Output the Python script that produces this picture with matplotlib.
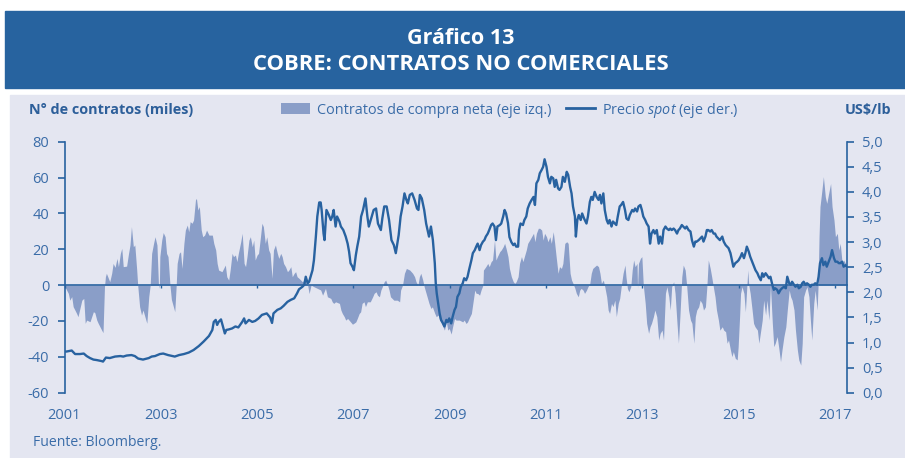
import matplotlib
matplotlib.use("Agg")
import matplotlib.pyplot as plt
from matplotlib.patches import Patch, Rectangle
from matplotlib.lines import Line2D

plt.rcParams["font.family"] = ["Open Sans", "DejaVu Sans"]
plt.rcParams["mathtext.fontset"] = "custom"
plt.rcParams["mathtext.rm"] = "Open Sans"
plt.rcParams["mathtext.it"] = "Open Sans:italic"

# --- datos (año decimal) ---
# contratos de compra neta, miles (eje izq.)
contratos_t = [
    2001.01, 2001.08, 2001.11, 2001.15, 2001.18, 2001.25, 2001.28, 2001.36, 2001.40, 2001.43,
    2001.46, 2001.53, 2001.60, 2001.63, 2001.67, 2001.70, 2001.77, 2001.80, 2001.83, 2001.85,
    2001.87, 2001.94, 2001.98, 2002.01, 2002.05, 2002.09, 2002.12, 2002.16, 2002.19, 2002.22,
    2002.29, 2002.33, 2002.36, 2002.39, 2002.43, 2002.46, 2002.50, 2002.52, 2002.56, 2002.60,
    2002.63, 2002.67, 2002.71, 2002.75, 2002.78, 2002.81, 2002.85, 2002.88, 2002.92, 2002.95,
    2002.97, 2002.98, 2003.02, 2003.05, 2003.09, 2003.12, 2003.15, 2003.19, 2003.22, 2003.29,
    2003.32, 2003.34, 2003.38, 2003.41, 2003.44, 2003.48, 2003.51, 2003.55, 2003.58, 2003.61,
    2003.65, 2003.68, 2003.72, 2003.74, 2003.77, 2003.80, 2003.84, 2003.87, 2003.91, 2003.95,
    2004.00, 2004.07, 2004.10, 2004.14, 2004.17, 2004.20, 2004.27, 2004.34, 2004.37, 2004.41,
    2004.44, 2004.48, 2004.51, 2004.55, 2004.58, 2004.61, 2004.66, 2004.69, 2004.73, 2004.76,
    2004.79, 2004.83, 2004.86, 2004.90, 2004.93, 2004.96, 2005.00, 2005.03, 2005.07, 2005.10,
    2005.13, 2005.17, 2005.20, 2005.24, 2005.27, 2005.31, 2005.34, 2005.38, 2005.42, 2005.45,
    2005.49, 2005.52, 2005.55, 2005.59, 2005.63, 2005.66, 2005.70, 2005.73, 2005.77, 2005.80,
    2005.83, 2005.87, 2005.94, 2005.98, 2006.05, 2006.08, 2006.12, 2006.18, 2006.25, 2006.32,
    2006.36, 2006.42, 2006.46, 2006.53, 2006.56, 2006.59, 2006.63, 2006.71, 2006.74, 2006.77,
    2006.81, 2006.84, 2006.88, 2006.94, 2006.98, 2007.01, 2007.05, 2007.08, 2007.12, 2007.15,
    2007.18, 2007.22, 2007.25, 2007.29, 2007.35, 2007.40, 2007.43, 2007.47, 2007.50, 2007.54,
    2007.57, 2007.60, 2007.64, 2007.67, 2007.71, 2007.74, 2007.77, 2007.84, 2007.91, 2007.96,
    2007.98, 2008.02, 2008.06, 2008.10, 2008.17, 2008.20, 2008.23, 2008.27, 2008.30, 2008.34,
    2008.37, 2008.40, 2008.44, 2008.47, 2008.51, 2008.54, 2008.57, 2008.61, 2008.64, 2008.69,
    2008.72, 2008.76, 2008.79, 2008.82, 2008.86, 2008.89, 2008.93, 2008.96, 2008.99, 2009.03,
    2009.06, 2009.10, 2009.13, 2009.20, 2009.27, 2009.30, 2009.34, 2009.37, 2009.40, 2009.45,
    2009.48, 2009.52, 2009.55, 2009.58, 2009.62, 2009.65, 2009.69, 2009.70, 2009.75, 2009.79,
    2009.82, 2009.86, 2009.89, 2009.93, 2009.96, 2009.99, 2010.04, 2010.07, 2010.11, 2010.14,
    2010.17, 2010.21, 2010.24, 2010.28, 2010.32, 2010.35, 2010.38, 2010.42, 2010.45, 2010.49,
    2010.52, 2010.55, 2010.59, 2010.62, 2010.66, 2010.70, 2010.74, 2010.77, 2010.80, 2010.84,
    2010.87, 2010.91, 2010.94, 2010.97, 2011.01, 2011.04, 2011.08, 2011.11, 2011.15, 2011.18,
    2011.21, 2011.25, 2011.28, 2011.32, 2011.35, 2011.39, 2011.43, 2011.46, 2011.50, 2011.53,
    2011.56, 2011.60, 2011.63, 2011.67, 2011.70, 2011.73, 2011.77, 2011.80, 2011.84, 2011.87,
    2011.91, 2011.94, 2011.97, 2012.01, 2012.05, 2012.09, 2012.12, 2012.15, 2012.19, 2012.22,
    2012.26, 2012.29, 2012.32, 2012.36, 2012.39, 2012.43, 2012.46, 2012.50, 2012.53, 2012.57,
    2012.60, 2012.64, 2012.66, 2012.69, 2012.72, 2012.76, 2012.79, 2012.82, 2012.85, 2012.89,
    2012.90, 2012.92, 2012.96, 2012.99, 2013.02, 2013.06, 2013.09, 2013.13, 2013.16, 2013.19,
    2013.23, 2013.26, 2013.30, 2013.34, 2013.37, 2013.41, 2013.44, 2013.48, 2013.51, 2013.55,
    2013.58, 2013.61, 2013.65, 2013.68, 2013.72, 2013.75, 2013.78, 2013.82, 2013.85, 2013.89,
    2013.92, 2013.96, 2014.00, 2014.03, 2014.07, 2014.10, 2014.13, 2014.17, 2014.20, 2014.24,
    2014.27, 2014.31, 2014.34, 2014.37, 2014.41, 2014.44, 2014.48, 2014.51, 2014.54, 2014.58,
    2014.61, 2014.66, 2014.69, 2014.73, 2014.76, 2014.79, 2014.83, 2014.86, 2014.89, 2014.93,
    2014.97, 2014.99, 2015.02, 2015.04, 2015.07, 2015.11, 2015.14, 2015.17, 2015.19, 2015.21,
    2015.24, 2015.28, 2015.31, 2015.34, 2015.39, 2015.42, 2015.46, 2015.49, 2015.52, 2015.56,
    2015.59, 2015.63, 2015.66, 2015.70, 2015.73, 2015.76, 2015.80, 2015.83, 2015.87, 2015.90,
    2015.94, 2015.98, 2016.01, 2016.05, 2016.08, 2016.11, 2016.15, 2016.18, 2016.22, 2016.25,
    2016.29, 2016.32, 2016.35, 2016.39, 2016.42, 2016.46, 2016.49, 2016.52, 2016.56, 2016.59,
    2016.63, 2016.65, 2016.67, 2016.69, 2016.73, 2016.76, 2016.80, 2016.83, 2016.87, 2016.91,
    2016.94, 2016.98, 2017.01, 2017.05, 2017.08, 2017.11, 2017.15, 2017.18, 2017.22, 2017.24,
]
contratos = [
    -1, -4.6, -8.4, -6.4, -12.0, -15.7, -17.6, -8.4, -7.4, -21.3,
    -19.5, -20.4, -14.8, -15.4, -19.5, -21.3, -25.0, -26.5, -1, 4.7,
    6.6, 1.9, 6.6, 12.1, 9.9, 14.9, 10.3, 17.7, 20.5, 10.3,
    10.6, 17.7, 22.4, 32.6, 21.4, 22.4, 8.4, 0, -12.0, -16.7,
    -13.9, -17.6, -21.3, -6.4, 0, 17.7, 23.3, 27.0, 22.4, 1,
    -1.8, 15.9, 25.2, 29.3, 27.0, 17.7, 15.9, 0, -8, -14.8,
    0, 12.1, 17.7, 18.6, 9.3, 23.3, 30.7, 33.5, 29.8, 35.4,
    34.5, 36.3, 47.5, 48.4, 41.9, 43.8, 30.7, 27.0, 27.9, 30.7,
    27.9, 27.9, 23.3, 19.6, 12.1, 8.4, 7.5, 11.2, 4.7, 2.8,
    8.4, 17.7, 15.9, 16.8, 13.1, 17.7, 24.2, 28.9, 12.1, 10.3,
    15.9, 25.1, 27.0, 21.4, 25.1, 14.0, 16.8, 17.7, 27.0, 34.5,
    32.6, 23.3, 27.0, 19.6, 17.7, 3.8, 19.6, 22.4, 17.7, 14.9,
    17.7, 15.9, 12.1, 10.3, 7.5, 8.4, 10.3, 4.7, 6.6, 7.5,
    4.7, 3.8, 1.9, 2.8, 0, -4.7, 0, -0.9, -1.8, -2.7,
    -5.6, -1.8, -6.5, -7.4, -9.3, -10.2, -9.3, -10.2, -13.9, -15.8,
    -17.6, -19.5, -18.6, -20.5, -21.8, -21.3, -20.5, -18.6, -15.8, -14.9,
    -10.2, -9.3, -12.0, -9.3, -9.3, -6.5, -4.6, -3.7, -5.6, -6.5,
    -2.8, -0.9, 1.9, 2.8, 0, -2.7, -6.5, -8.4, -8.4, -9.3,
    -2.8, 0, 6.6, 9.3, 8.4, 7.5, 6.6, 4.7, 1.9, 0,
    4.7, 6.6, 2.8, -0.9, -4.6, -7.4, -10.2, -13.0, -12.1, -15.8,
    -17.6, -16.7, -19.5, -20.5, -23.2, -25.1, -20.5, -25.1, -24.2, -27.3,
    -23.2, -18.6, -19.5, -19.5, -20.5, -19.5, -21.4, -20.5, -18.6, -15.8,
    -10.2, -2.8, -4.6, -4.6, -5.6, -2.8, 0, 8.4, 10.3, 12.1,
    10.3, 13.1, 14.0, 25.1, 14.0, 15.9, 18.7, 19.6, 21.4, 23.3,
    20.5, 15.9, 9.3, 4.7, 1.9, 1.0, 1.9, 4.7, 12.1, 15.9,
    13.1, 15.9, 19.6, 23.3, 25.1, 27.0, 28.9, 24.2, 28.9, 31.7,
    31.7, 30.7, 25.1, 28.9, 27.0, 24.2, 27.0, 23.3, 29.8, 23.3,
    15.9, 6.6, 10.3, 9.3, 12.1, 23.3, 24.2, 23.3, 6.6, 2.8,
    1.0, -1.8, -4.6, -6.5, -2.8, -1.8, -2.8, -4.6, -2.8, -0.9,
    1.0, 6.6, 9.3, 10.3, 11.2, 10.3, 6.6, 1.0, 2.8, -0.9,
    -6.5, -13.9, -15.8, -10.2, -12.0, -8.4, -17.6, -10.2, -7.4, 1,
    6.6, 11.2, 4.7, -1.8, -3.7, -0.9, 8.4, 14.0, 10.3, 12.1,
    -1.8, 12.1, 14.9, 15.9, 0, -10.2, -21.3, -26.9, -23.2, -21.3,
    -17.6, -13.9, -17.6, -30.6, -26.9, -25.1, -30.6, -4.6, -0.9, -6.5,
    -13.9, -0.9, 1.9, -4.6, -21.3, -32.4, -17.6, 4.7, 11.2, 8.4,
    0, -13.9, -19.5, -21.3, -32.4, -17.6, -13.9, -12.1, -8.4, -10.2,
    -13.9, -12.1, -0.9, 14.0, 9.3, 4.7, -1.8, -6.5, -13.9, -19.5,
    -25.1, -23.2, -25.1, -26.0, -32.4, -30.6, -36.2, -39.9, -37.1, -40.8,
    -41.7, -34.3, -17.6, -4.6, -0.9, -4.6, -14.9, -0.9, 8.4, 0,
    -4.6, -13.9, -21.3, -23.2, -25.1, -32.4, -25.1, -19.5, -8.4, -16.7,
    -8.4, -19.5, 0, -21.3, -34.3, -32.4, -28.7, -34.3, -42.7, -36.2,
    -28.7, -23.2, -14.0, -2.8, -6.5, -8.4, -13.9, -25.1, -36.2, -41.8,
    -44.6, -32.5, -6.5, -2.8, -0.9, -6.5, -19.5, -30.6, -10.2, -2.8,
    -13.9, 0, 27.0, 43.8, 53.1, 60.5, 49.3, 45.6, 51.2, 56.7,
    43.8, 36.3, 27.0, 28.9, 19.6, 23.3, 12.1, 14.0, 12.1, 10.3,
]

# precio spot del cobre, US$/lb (eje der.)
precio_t = [
    2001.00, 2001.04, 2001.15, 2001.22, 2001.32, 2001.40, 2001.46, 2001.53, 2001.60, 2001.67,
    2001.77, 2001.80, 2001.86, 2001.94, 2002.05, 2002.16, 2002.22, 2002.29, 2002.39, 2002.46,
    2002.53, 2002.63, 2002.75, 2002.81, 2002.88, 2002.98, 2003.05, 2003.15, 2003.29, 2003.38,
    2003.48, 2003.58, 2003.68, 2003.79, 2003.89, 2004.00, 2004.07, 2004.10, 2004.14, 2004.17,
    2004.20, 2004.25, 2004.29, 2004.33, 2004.36, 2004.41, 2004.48, 2004.55, 2004.61, 2004.69,
    2004.73, 2004.76, 2004.83, 2004.90, 2004.96, 2005.03, 2005.10, 2005.20, 2005.27, 2005.31,
    2005.34, 2005.42, 2005.49, 2005.55, 2005.63, 2005.70, 2005.77, 2005.83, 2005.87, 2005.94,
    2005.98, 2006.01, 2006.05, 2006.08, 2006.12, 2006.15, 2006.18, 2006.22, 2006.25, 2006.29,
    2006.32, 2006.34, 2006.38, 2006.40, 2006.44, 2006.49, 2006.53, 2006.56, 2006.59, 2006.63,
    2006.66, 2006.71, 2006.74, 2006.79, 2006.84, 2006.88, 2006.91, 2006.94, 2006.98, 2007.01,
    2007.05, 2007.08, 2007.12, 2007.16, 2007.20, 2007.25, 2007.29, 2007.32, 2007.38, 2007.42,
    2007.47, 2007.51, 2007.57, 2007.60, 2007.64, 2007.69, 2007.74, 2007.79, 2007.84, 2007.88,
    2007.94, 2007.98, 2008.02, 2008.06, 2008.10, 2008.13, 2008.17, 2008.22, 2008.27, 2008.32,
    2008.35, 2008.38, 2008.42, 2008.47, 2008.51, 2008.54, 2008.57, 2008.61, 2008.65, 2008.69,
    2008.71, 2008.73, 2008.76, 2008.79, 2008.82, 2008.86, 2008.89, 2008.93, 2008.96, 2008.99,
    2009.03, 2009.06, 2009.10, 2009.13, 2009.16, 2009.20, 2009.23, 2009.27, 2009.30, 2009.34,
    2009.37, 2009.40, 2009.45, 2009.48, 2009.52, 2009.55, 2009.58, 2009.62, 2009.65, 2009.69,
    2009.72, 2009.75, 2009.79, 2009.82, 2009.86, 2009.89, 2009.93, 2009.96, 2009.99, 2010.04,
    2010.07, 2010.11, 2010.14, 2010.17, 2010.21, 2010.24, 2010.28, 2010.32, 2010.35, 2010.38,
    2010.42, 2010.44, 2010.47, 2010.52, 2010.55, 2010.59, 2010.62, 2010.66, 2010.70, 2010.74,
    2010.77, 2010.80, 2010.84, 2010.87, 2010.91, 2010.94, 2010.97, 2011.01, 2011.04, 2011.08,
    2011.11, 2011.15, 2011.18, 2011.21, 2011.25, 2011.28, 2011.32, 2011.35, 2011.39, 2011.43,
    2011.46, 2011.50, 2011.53, 2011.56, 2011.60, 2011.62, 2011.65, 2011.68, 2011.72, 2011.75,
    2011.79, 2011.84, 2011.87, 2011.91, 2011.94, 2011.97, 2012.01, 2012.05, 2012.09, 2012.12,
    2012.15, 2012.19, 2012.22, 2012.26, 2012.29, 2012.32, 2012.36, 2012.39, 2012.43, 2012.46,
    2012.49, 2012.53, 2012.56, 2012.60, 2012.64, 2012.67, 2012.71, 2012.74, 2012.79, 2012.82,
    2012.85, 2012.89, 2012.92, 2012.96, 2012.99, 2013.02, 2013.06, 2013.09, 2013.13, 2013.16,
    2013.19, 2013.23, 2013.26, 2013.30, 2013.34, 2013.37, 2013.41, 2013.44, 2013.48, 2013.51,
    2013.55, 2013.58, 2013.61, 2013.65, 2013.68, 2013.72, 2013.75, 2013.78, 2013.82, 2013.85,
    2013.89, 2013.92, 2013.96, 2014.00, 2014.03, 2014.07, 2014.10, 2014.13, 2014.17, 2014.20,
    2014.24, 2014.27, 2014.31, 2014.34, 2014.37, 2014.41, 2014.44, 2014.48, 2014.51, 2014.54,
    2014.58, 2014.61, 2014.66, 2014.69, 2014.73, 2014.76, 2014.79, 2014.83, 2014.86, 2014.89,
    2014.93, 2014.97, 2015.00, 2015.04, 2015.07, 2015.11, 2015.14, 2015.17, 2015.21, 2015.24,
    2015.28, 2015.31, 2015.35, 2015.39, 2015.42, 2015.46, 2015.49, 2015.52, 2015.56, 2015.59,
    2015.63, 2015.66, 2015.70, 2015.73, 2015.76, 2015.80, 2015.83, 2015.87, 2015.90, 2015.94,
    2015.98, 2016.01, 2016.05, 2016.08, 2016.11, 2016.15, 2016.18, 2016.22, 2016.25, 2016.29,
    2016.32, 2016.35, 2016.39, 2016.42, 2016.46, 2016.49, 2016.52, 2016.56, 2016.59, 2016.63,
    2016.66, 2016.69, 2016.73, 2016.76, 2016.80, 2016.83, 2016.87, 2016.91, 2016.94, 2016.98,
    2017.01, 2017.05, 2017.08, 2017.11, 2017.15, 2017.18, 2017.22, 2017.24,
]
precio = [
    0.82, 0.82, 0.84, 0.77, 0.77, 0.78, 0.73, 0.69, 0.66, 0.65,
    0.63, 0.62, 0.70, 0.69, 0.72, 0.73, 0.72, 0.74, 0.75, 0.73,
    0.68, 0.66, 0.69, 0.72, 0.73, 0.77, 0.78, 0.75, 0.72, 0.75,
    0.77, 0.80, 0.85, 0.93, 1.02, 1.13, 1.25, 1.41, 1.45, 1.35,
    1.41, 1.46, 1.32, 1.18, 1.25, 1.26, 1.28, 1.32, 1.30, 1.41,
    1.48, 1.38, 1.45, 1.41, 1.43, 1.48, 1.55, 1.58, 1.50, 1.39,
    1.58, 1.65, 1.68, 1.73, 1.81, 1.85, 1.88, 1.98, 2.06, 2.11,
    2.15, 2.31, 2.18, 2.21, 2.34, 2.44, 2.64, 3.11, 3.51, 3.79,
    3.79, 3.64, 3.17, 3.04, 3.64, 3.54, 3.44, 3.51, 3.64, 3.31,
    3.51, 3.41, 3.31, 3.24, 3.11, 2.97, 2.81, 2.58, 2.51, 2.44,
    2.74, 2.91, 3.11, 3.51, 3.64, 3.87, 3.51, 3.31, 3.51, 3.64,
    3.67, 3.37, 3.24, 3.47, 3.71, 3.71, 3.44, 3.04, 2.94, 2.78,
    3.14, 3.51, 3.71, 3.97, 3.84, 3.77, 3.94, 3.97, 3.84, 3.67,
    3.64, 3.94, 3.87, 3.64, 3.37, 3.24, 3.11, 3.31, 3.04, 2.58,
    2.18, 1.98, 1.78, 1.58, 1.45, 1.38, 1.32, 1.45, 1.41, 1.48,
    1.38, 1.51, 1.65, 1.71, 1.91, 1.98, 2.11, 2.18, 2.28, 2.24,
    2.31, 2.44, 2.64, 2.78, 2.84, 2.91, 2.97, 2.84, 2.94, 3.01,
    3.04, 3.11, 3.17, 3.24, 3.34, 3.37, 3.31, 3.04, 3.31, 3.34,
    3.37, 3.51, 3.64, 3.57, 3.38, 3.10, 3.00, 2.94, 2.97, 2.91,
    2.91, 3.24, 3.37, 3.34, 3.44, 3.51, 3.67, 3.77, 3.84, 3.90,
    3.74, 4.17, 4.24, 4.37, 4.44, 4.50, 4.65, 4.50, 4.30, 4.17,
    4.30, 4.27, 4.10, 4.24, 4.07, 4.04, 4.10, 4.30, 4.20, 4.40,
    4.34, 4.10, 3.97, 3.71, 3.51, 3.11, 3.44, 3.54, 3.44, 3.57,
    3.47, 3.37, 3.51, 3.80, 3.90, 3.84, 4.00, 3.90, 3.84, 3.94,
    3.77, 3.97, 3.64, 3.44, 3.37, 3.44, 3.31, 3.41, 3.37, 3.34,
    3.51, 3.71, 3.74, 3.80, 3.64, 3.47, 3.44, 3.54, 3.64, 3.61,
    3.67, 3.61, 3.71, 3.74, 3.64, 3.51, 3.44, 3.37, 3.31, 2.97,
    3.17, 3.24, 3.17, 3.24, 2.97, 3.11, 2.97, 3.24, 3.31, 3.27,
    3.24, 3.27, 3.24, 3.27, 3.24, 3.17, 3.24, 3.27, 3.34, 3.31,
    3.27, 3.31, 3.24, 3.21, 3.04, 2.91, 3.01, 3.01, 3.04, 3.07,
    3.11, 3.01, 3.11, 3.24, 3.24, 3.21, 3.24, 3.17, 3.17, 3.11,
    3.07, 3.04, 3.11, 3.01, 2.94, 2.91, 2.88, 2.78, 2.64, 2.51,
    2.58, 2.61, 2.64, 2.71, 2.78, 2.68, 2.78, 2.91, 2.81, 2.71,
    2.61, 2.54, 2.44, 2.38, 2.31, 2.24, 2.38, 2.31, 2.38, 2.34,
    2.28, 2.31, 2.15, 2.05, 2.08, 2.05, 1.98, 2.05, 2.08, 2.11,
    2.08, 2.31, 2.18, 2.15, 2.21, 2.15, 2.11, 2.15, 2.08, 2.11,
    2.18, 2.21, 2.15, 2.18, 2.15, 2.11, 2.15, 2.15, 2.18, 2.15,
    2.31, 2.58, 2.68, 2.54, 2.61, 2.51, 2.61, 2.71, 2.84, 2.68,
    2.61, 2.61, 2.58, 2.58, 2.61, 2.51, 2.54, 2.52,
]

anios = [2001, 2003, 2005, 2007, 2009, 2011, 2013, 2015, 2017]
ticks_izq = [-60, -40, -20, 0, 20, 40, 60, 80]
ticks_der = [0.0, 0.5, 1.0, 1.5, 2.0, 2.5, 3.0, 3.5, 4.0, 4.5, 5.0]

AZUL = "#2862a0"
AZUL_TXT = "#3a6ca8"
RELLENO = "#8a9ec8"
FONDO = "#e4e6f1"

W, H = 905, 458
fig = plt.figure(figsize=(W / 100, H / 100), dpi=100, facecolor="white")

# cabecera y panel de fondo
fig.patches.append(Rectangle((5 / W, 1 - 88 / H), 1, 77 / H, transform=fig.transFigure,
                             color="#27639f", zorder=-2))
fig.patches.append(Rectangle((10 / W, 0), 1, 1 - 95 / H, transform=fig.transFigure,
                             color=FONDO, zorder=-2))
fig.text(461 / W, 1 - 38 / H, "Gráfico 13", ha="center", va="center",
         color="white", fontsize=15.5, fontweight="bold")
fig.text(461 / W, 1 - 64 / H, "COBRE: CONTRATOS NO COMERCIALES", ha="center",
         va="center", color="white", fontsize=15.8, fontweight="bold")

ax = fig.add_axes([64.5 / W, 1 - 392.7 / H, 782 / W, 251 / H])
ax.set_facecolor(FONDO)
ax.fill_between(contratos_t, contratos, 0, color=RELLENO, linewidth=0, zorder=1)
ax.set_xlim(2001.0, 2017.24)
ax.set_ylim(-60, 80)
ax.set_yticks(ticks_izq)
ax.set_yticklabels([str(v) for v in ticks_izq])
ax.set_xticks(anios)
ax.set_xticklabels([str(a) for a in anios])

for s in ["top", "right"]:
    ax.spines[s].set_visible(False)
ax.spines["bottom"].set_position(("data", 0))
for s in ["left", "bottom"]:
    ax.spines[s].set_color(AZUL)
    ax.spines[s].set_linewidth(1.2)
ax.tick_params(axis="y", direction="out", length=5, width=1.2, color=AZUL,
               labelcolor=AZUL_TXT, labelsize=10.5, pad=6)
ax.tick_params(axis="x", direction="out", length=2.5, width=1.0, color=AZUL,
               labelcolor=AZUL_TXT, labelsize=10.5, pad=86)

ax2 = ax.twinx()
ax2.plot(precio_t, precio, color=AZUL, linewidth=1.7, zorder=3)
ax2.set_ylim(0, 5)
ax2.set_yticks(ticks_der)
ax2.set_yticklabels([f"{v:.1f}".replace(".", ",") for v in ticks_der])
for s in ["top", "left", "bottom"]:
    ax2.spines[s].set_visible(False)
ax2.spines["right"].set_color(AZUL)
ax2.spines["right"].set_linewidth(1.2)
ax2.tick_params(axis="y", direction="out", length=5, width=1.2, color=AZUL,
                labelcolor=AZUL_TXT, labelsize=10.5, pad=6)

# títulos de ejes y leyenda
fig.text(29 / W, 1 - 110 / H, "N° de contratos (miles)", ha="left", va="center",
         color="#2d5f9a", fontsize=10.4, fontweight="bold")
fig.text(891 / W, 1 - 110 / H, "US$/lb", ha="right", va="center",
         color="#2d5f9a", fontsize=10.4, fontweight="bold")
handles = [Patch(facecolor=RELLENO, edgecolor="none"),
           Line2D([], [], color=AZUL, linewidth=2)]
labels = ["Contratos de compra neta (eje izq.)", r"Precio $\mathit{spot}$ (eje der.)"]
fig.legend(handles, labels, loc="center", bbox_to_anchor=(510 / W, 1 - 110 / H),
           ncol=2, frameon=False, fontsize=10.4, labelcolor=AZUL_TXT,
           handlelength=2.0, handletextpad=0.5, columnspacing=1.0)

fig.text(33 / W, 1 - 443 / H, "Fuente: Bloomberg.", ha="left", va="center",
         color=AZUL_TXT, fontsize=10.1)

fig.savefig("out.png", dpi=100, facecolor="white")
